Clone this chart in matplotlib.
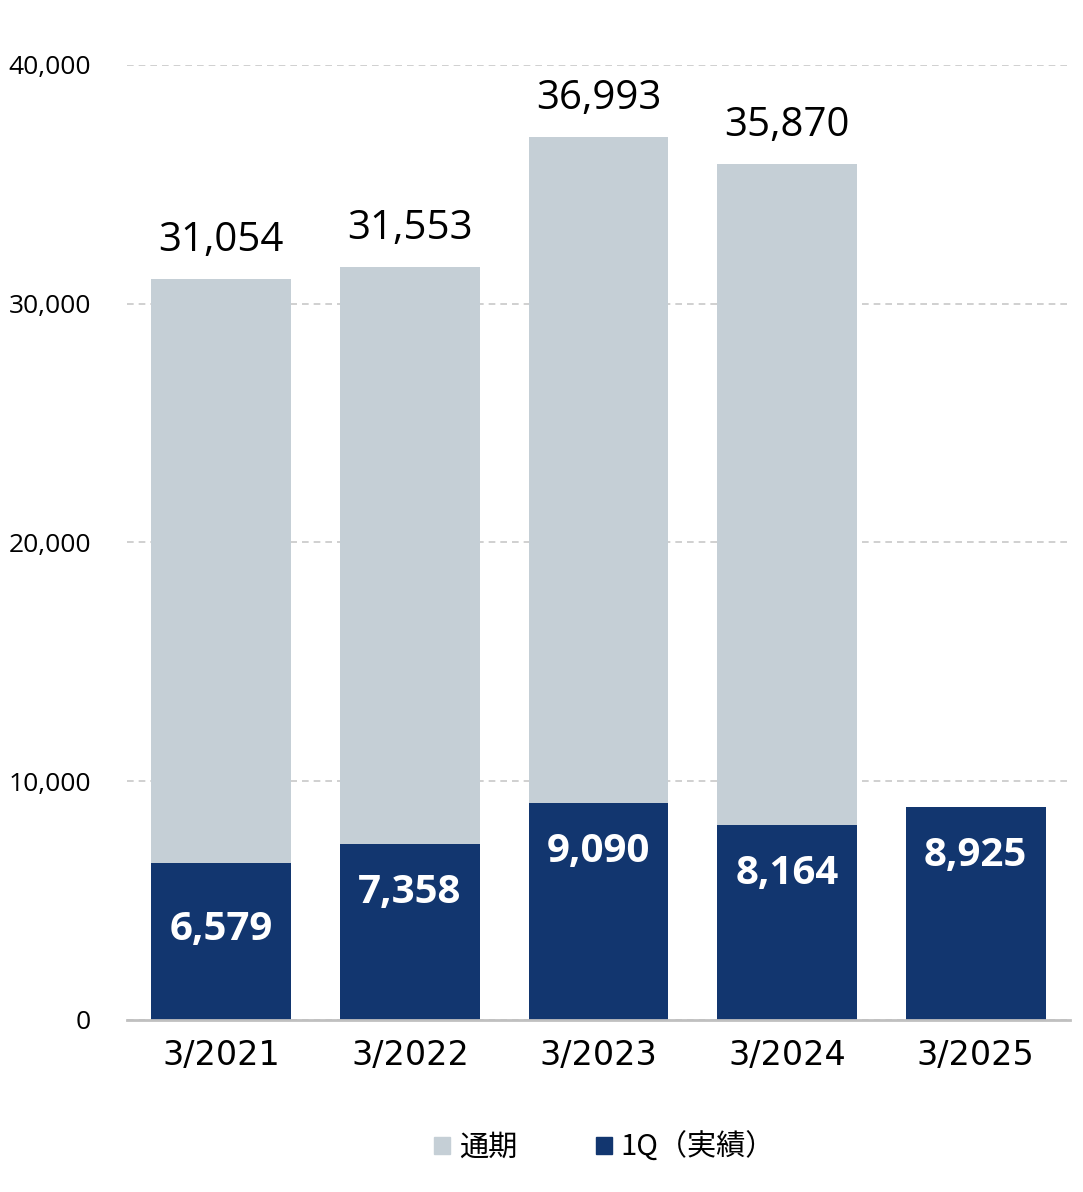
import numpy as np
import matplotlib.pyplot as plt
from matplotlib.patches import Patch

plt.rcParams['font.family'] = ['Noto Sans CJK JP', 'DejaVu Sans']

periods = ['3/2021', '3/2022', '3/2023', '3/2024', '3/2025']
full_year = [31054, 31553, 36993, 35870, None]
q1 = [6579, 7358, 9090, 8164, 8925]

gray = '#C5CFD6'
navy = '#12366F'

fig = plt.figure(figsize=(10.83, 11.92), dpi=100)
ax = fig.add_axes([0.1173, 0.1443, 0.8707, 0.8012])

x = np.arange(len(periods))
w = 0.742

fy_x = [i for i, v in enumerate(full_year) if v is not None]
fy_v = [v for v in full_year if v is not None]
ax.bar(fy_x, fy_v, w, color=gray, zorder=2)
ax.bar(x, q1, w, color=navy, zorder=3)

for i, v in zip(fy_x, fy_v):
    ax.annotate('{:,}'.format(v), (i, v), xytext=(0, 13), textcoords='offset points',
                ha='center', va='bottom', fontsize=29, family='Open Sans')

for i, v in enumerate(q1):
    off = -48 if i == 0 else -35
    ax.annotate('{:,}'.format(v), (i, v), xytext=(0, off), textcoords='offset points',
                ha='center', va='center', fontsize=29, family='Open Sans',
                fontweight='bold', color='white', zorder=4)

ax.set_xlim(-0.5, 4.5)
ax.set_ylim(0, 40000)
ax.set_yticks([0, 10000, 20000, 30000, 40000])
ax.set_yticklabels(['{:,}'.format(t) for t in [0, 10000, 20000, 30000, 40000]],
                   fontsize=19, family='Open Sans')
ax.set_xticks(x)
ax.set_xticklabels(periods, fontsize=24, family='DejaVu Sans')
ax.tick_params(axis='y', length=0, pad=26)
ax.tick_params(axis='x', length=0, pad=14)
ax.yaxis.grid(True, linestyle=(0, (4, 3)), color='#C8C8C8', linewidth=1.2, zorder=0)
ax.set_axisbelow(True)
for s in ['top', 'right', 'left']:
    ax.spines[s].set_visible(False)
ax.spines['bottom'].set_color('#C0C0C0')
ax.spines['bottom'].set_linewidth(2)
ax.spines['bottom'].set_zorder(5)

handles = [Patch(color=gray, label='通期'), Patch(color=navy, label='1Q（実績）')]
fig.legend(handles=handles, loc='center', bbox_to_anchor=(0.558, 0.037), ncol=2,
           frameon=False, fontsize=21, handlelength=0.55, handleheight=0.55,
           handletextpad=0.3, columnspacing=2.7)

plt.savefig('out.png', dpi=100)
